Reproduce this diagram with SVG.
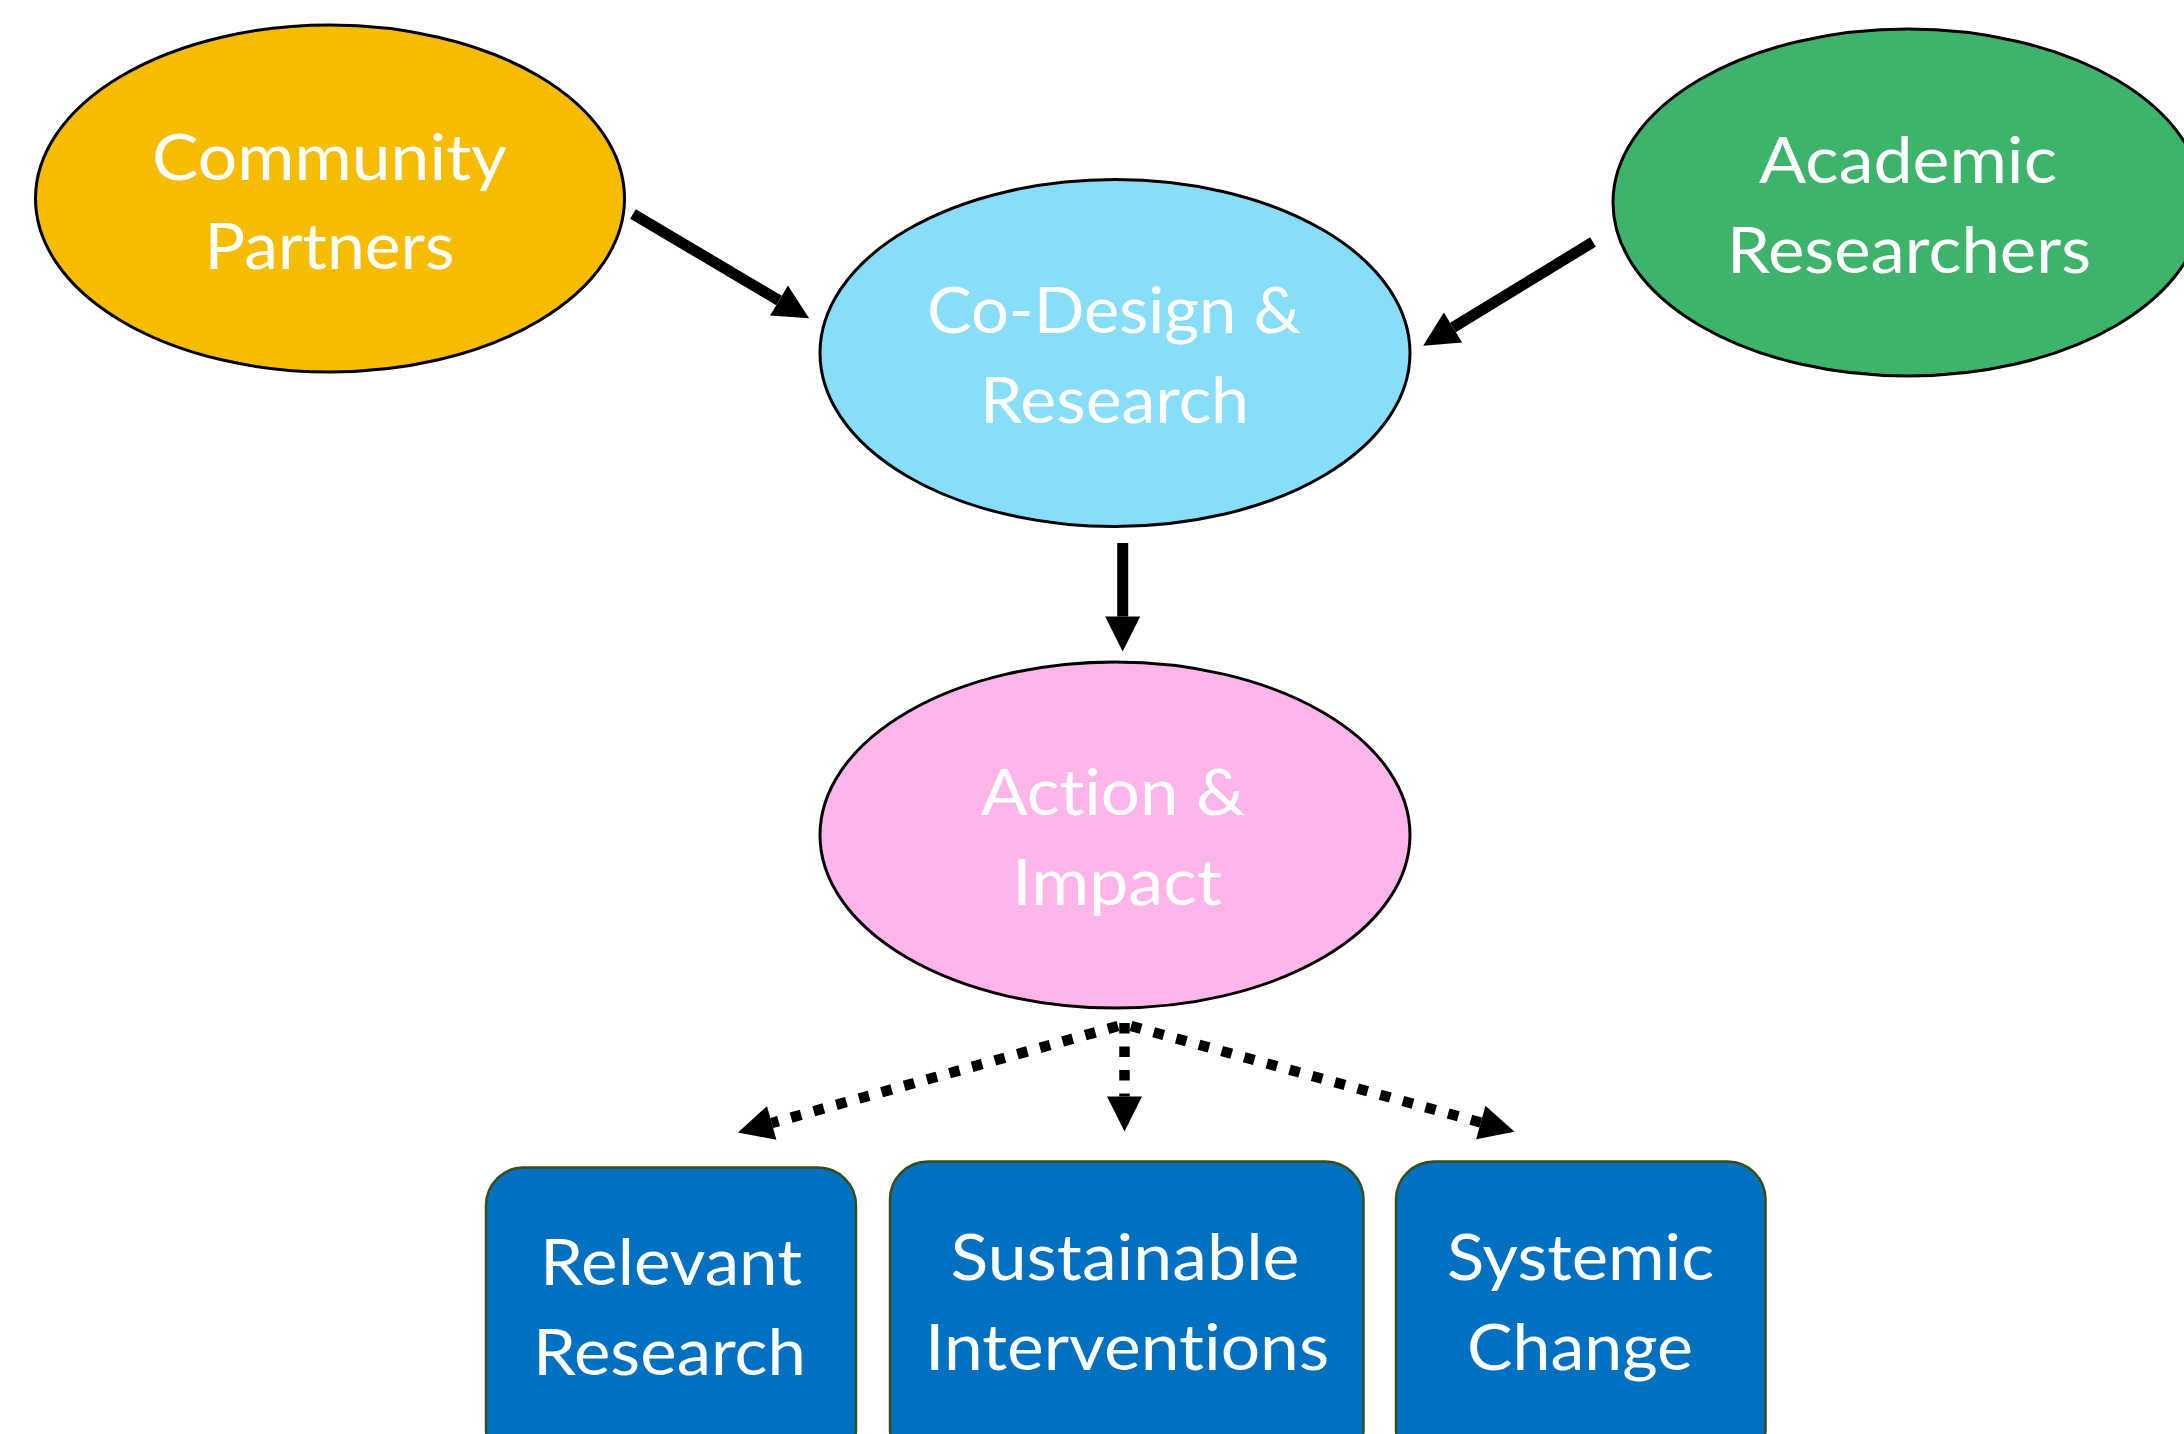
<svg xmlns="http://www.w3.org/2000/svg" width="2184" height="1434" viewBox="0 0 2184 1434">
  <style>
    .oval { stroke: #000000; stroke-width: 3; }
    .box { fill: #0070C0; stroke: #33501C; stroke-width: 2.5; }
    .label { font-family: Lato, "Open Sans", "Liberation Sans", sans-serif; font-size: 64px; fill: #FFFFFF; text-anchor: middle; font-variant-ligatures: none; font-feature-settings: "liga" 0, "clig" 0; }
    .solid { fill: none; stroke: #000000; stroke-width: 11; }
    .dotted { fill: none; stroke: #000000; stroke-width: 10.5; stroke-dasharray: 10.5 13; }
  </style>
  <defs>
    <marker id="head" markerUnits="userSpaceOnUse" markerWidth="36" markerHeight="36" refX="0" refY="17.5" orient="auto" overflow="visible">
      <path d="M0,0 L35,17.5 L0,35 Z" fill="#000000"/>
    </marker>
  </defs>

  <rect width="2184" height="1434" fill="#FFFFFF"/>

  <!-- connectors -->
  <g id="connectors">
    <line class="solid" x1="633" y1="214" x2="779" y2="300.5" marker-end="url(#head)"/>
    <line class="solid" x1="1593" y1="242" x2="1453" y2="327.5" marker-end="url(#head)"/>
    <line class="solid" x1="1122.7" y1="543" x2="1122.7" y2="616.5" marker-end="url(#head)"/>
    <line class="dotted" x1="1124.5" y1="1023" x2="1124.5" y2="1096.5" marker-end="url(#head)"/>
    <line class="dotted" x1="1118" y1="1026" x2="771.7" y2="1123" marker-end="url(#head)"/>
    <line class="dotted" x1="1131" y1="1026" x2="1480.8" y2="1122.5" marker-end="url(#head)"/>
  </g>

  <!-- nodes -->
  <g id="community-partners">
    <ellipse class="oval" cx="330" cy="198.5" rx="294.5" ry="173.5" fill="#F6BD00"/>
    <text class="label" x="329.5" y="180" textLength="355" lengthAdjust="spacingAndGlyphs">Community</text>
    <text class="label" x="329.5" y="269" textLength="250" lengthAdjust="spacingAndGlyphs">Partners</text>
  </g>

  <g id="academic-researchers">
    <ellipse class="oval" cx="1908" cy="202.5" rx="295" ry="173.5" fill="#3EB36C"/>
    <text class="label" x="1908" y="183" textLength="298" lengthAdjust="spacingAndGlyphs">Academic</text>
    <text class="label" x="1909" y="273" textLength="364" lengthAdjust="spacingAndGlyphs">Researchers</text>
  </g>

  <g id="co-design-research">
    <ellipse class="oval" cx="1115" cy="353" rx="295" ry="173.5" fill="#88DEF8"/>
    <text class="label" x="1114" y="333" textLength="374" lengthAdjust="spacingAndGlyphs">Co-Design &amp;</text>
    <text class="label" x="1114.5" y="423" textLength="269" lengthAdjust="spacingAndGlyphs">Research</text>
  </g>

  <g id="action-impact">
    <ellipse class="oval" cx="1115" cy="835" rx="295" ry="173" fill="#FEB5E9"/>
    <text class="label" x="1113" y="815" textLength="264" lengthAdjust="spacingAndGlyphs">Action &amp;</text>
    <text class="label" x="1117" y="905" textLength="210" lengthAdjust="spacingAndGlyphs">Impact</text>
  </g>

  <g id="relevant-research">
    <rect class="box" x="486" y="1167.5" width="370" height="300" rx="38" ry="38"/>
    <text class="label" x="671" y="1285" textLength="262" lengthAdjust="spacingAndGlyphs">Relevant</text>
    <text class="label" x="669.5" y="1375" textLength="273" lengthAdjust="spacingAndGlyphs">Research</text>
  </g>

  <g id="sustainable-interventions">
    <rect class="box" x="890" y="1161.5" width="473.5" height="306" rx="38" ry="38"/>
    <text class="label" x="1125" y="1280" textLength="349" lengthAdjust="spacingAndGlyphs">Sustainable</text>
    <text class="label" x="1127" y="1370" textLength="404" lengthAdjust="spacingAndGlyphs">Interventions</text>
  </g>

  <g id="systemic-change">
    <rect class="box" x="1396" y="1161.5" width="369.5" height="306" rx="38" ry="38"/>
    <text class="label" x="1580.5" y="1280" textLength="267" lengthAdjust="spacingAndGlyphs">Systemic</text>
    <text class="label" x="1580" y="1370" textLength="226" lengthAdjust="spacingAndGlyphs">Change</text>
  </g>
</svg>
